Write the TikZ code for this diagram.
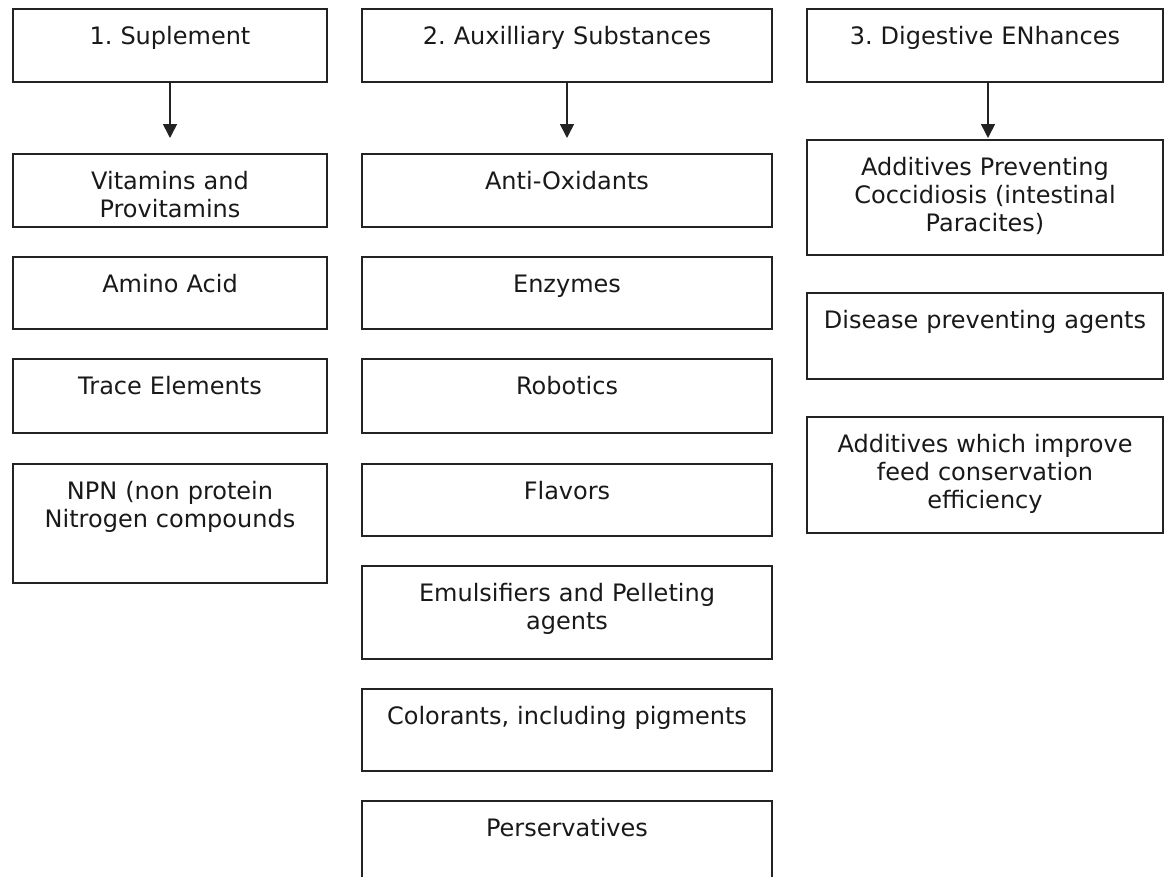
\documentclass[tikz,border=0pt]{standalone}
\usepackage{fontspec}
\setmainfont{DejaVu Sans}
\usepackage{tikz}
\usetikzlibrary{arrows.meta}
\definecolor{boxline}{RGB}{35, 35, 35}
\definecolor{boxtext}{RGB}{25, 25, 25}
\frenchspacing

\tikzset{
  itembox/.style 2 args={draw=boxline, line width=2pt, anchor=north west,
    text width=#1, text height=35pt, text depth=#2, inner xsep=0pt, inner ysep=0pt,
    align=center, text=boxtext, font=\fontsize{24}{28}\selectfont},
  downarrow/.style={draw=boxline, line width=1.6pt, -{Triangle[width=14pt,length=14pt]}}
}

\begin{document}
\begin{tikzpicture}[x=1pt, y=-1pt]
  \useasboundingbox (0,0) rectangle (1164,876);
  \clip (0,0) rectangle (1164,876);

  % 1. Suplement
  \node[itembox={314pt}{38pt}] (sup) at (12,8) {1. Suplement};
  \node[itembox={314pt}{38pt}] (vit) at (12,153) {Vitamins and\\Provitamins};
  \node[itembox={314pt}{37pt}] (amino) at (12,256) {Amino Acid};
  \node[itembox={314pt}{39pt}] (trace) at (12,358) {Trace Elements};
  \node[itembox={314pt}{84pt}] (npn) at (12,463) {NPN (non protein\\Nitrogen compounds};

  % 2. Auxilliary Substances
  \node[itembox={410pt}{38pt}] (aux) at (361,8) {2. Auxilliary Substances};
  \node[itembox={410pt}{38pt}] (anti) at (361,153) {Anti-Oxidants};
  \node[itembox={410pt}{37pt}] (enz) at (361,256) {Enzymes};
  \node[itembox={410pt}{39pt}] (robo) at (361,358) {Robotics};
  \node[itembox={410pt}{37pt}] (flav) at (361,463) {Flavors};
  \node[itembox={410pt}{58pt}] (emul) at (361,565) {Emulsifiers and Pelleting\\agents};
  \node[itembox={410pt}{47pt}] (color) at (361,688) {Colorants, including pigments};
  \node[itembox={410pt}{90pt}] (pers) at (361,800) {Perservatives};

  % 3. Digestive ENhances
  \node[itembox={356pt}{38pt}] (dig) at (806,8) {3. Digestive ENhances};
  \node[itembox={356pt}{80pt}] (cocc) at (806,139) {Additives Preventing\\Coccidiosis (intestinal\\Paracites)};
  \node[itembox={356pt}{51pt}] (dis) at (806,292) {Disease preventing agents};
  \node[itembox={356pt}{81pt}] (feed) at (806,416) {Additives which improve\\feed conservation\\efficiency};

  % arrows
  \draw[downarrow, shorten >=15pt] (sup.south) -- (vit.north);
  \draw[downarrow, shorten >=15pt] (aux.south) -- (anti.north);
  \draw[downarrow, shorten >=1pt] ([xshift=3pt]dig.south) -- ([xshift=3pt]cocc.north);
\end{tikzpicture}
\end{document}
